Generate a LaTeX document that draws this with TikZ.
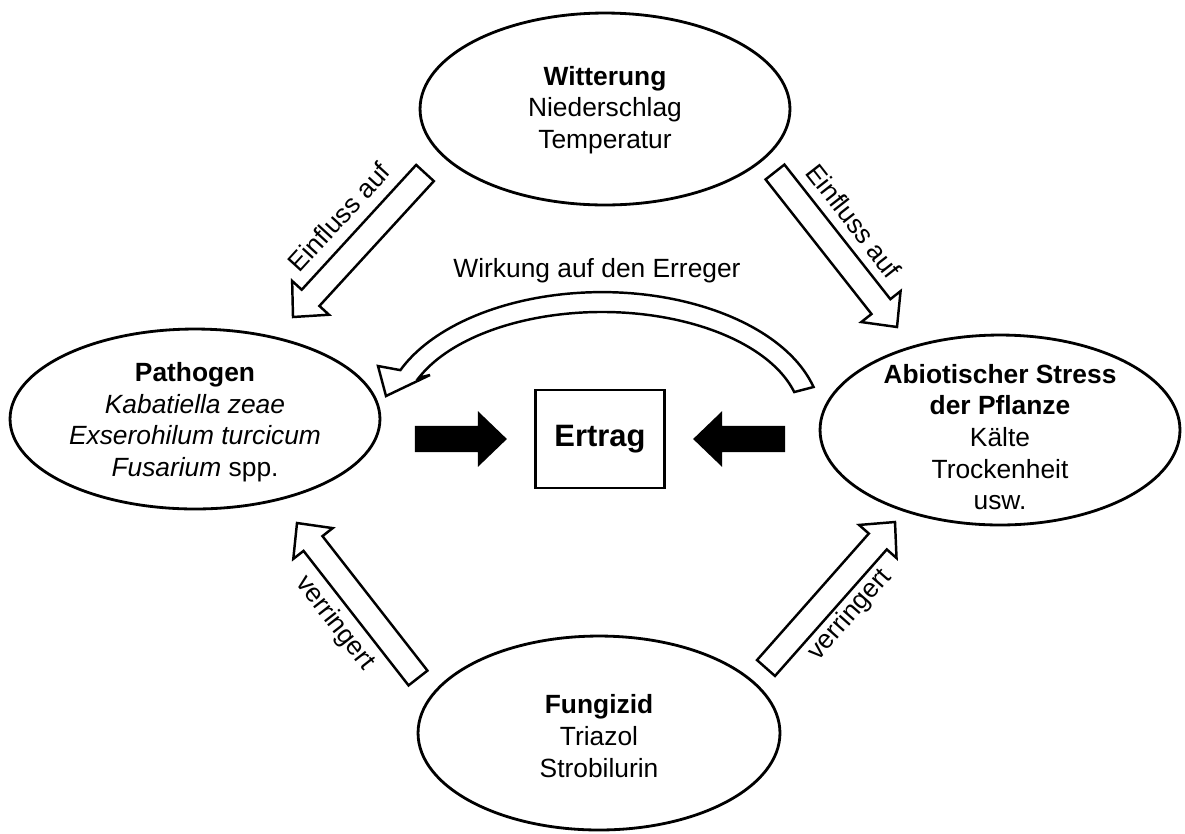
\documentclass[tikz,border=0pt]{standalone}
\usepackage{fontspec}
\setmainfont{Liberation Sans}
\usetikzlibrary{shapes.geometric, calc}

% block arrow from tail #2 to tip #3, filled with #1
\newcommand{\blockarr}[3][white]{%
	\coordinate (ba-base) at ($(#3)!0.52cm!(#2)$);
	\draw[arrowline, fill=#1] ($(#2)!0.24cm!90:(#3)$) -- ($(ba-base)!0.24cm!90:(#3)$) -- ($(ba-base)!0.5cm!90:(#3)$) -- (#3) -- ($(ba-base)!0.5cm!-90:(#3)$) -- ($(ba-base)!0.24cm!-90:(#3)$) -- ($(#2)!0.24cm!-90:(#3)$) -- cycle;
}

\begin{document}
\begin{tikzpicture}[x=0.02cm, y=-0.02cm,
	oval/.style={shape=ellipse, draw, line width=1.6pt, inner sep=0pt},
	ovaltext/.style={align=center, font=\fontsize{15}{18}\selectfont},
	lbl/.style={font=\fontsize{15}{18}\selectfont, inner sep=1pt},
	arrowline/.style={line width=1.4pt, line join=miter}]
	\path[fill=white] (0,0) rectangle (1185,833);
	% the four ovals
	\node[oval, minimum width=7.4cm, minimum height=3.84cm] (wetter) at (605,109) {};
	\node[ovaltext] (wetter-text) at (605,110) {\textbf{Witterung}\\Niederschlag\\Temperatur};
	\node[oval, minimum width=7.4cm, minimum height=3.6cm] (patho) at (195,419) {};
	\node[ovaltext] (patho-text) at (195,422) {\textbf{Pathogen}\\\textit{Kabatiella zeae}\\\textit{Exserohilum turcicum}\\\textit{Fusarium} spp.};
	\node[oval, minimum width=7.2cm, minimum height=3.8cm] (stress) at (1000,430) {};
	\node[ovaltext] (stress-text) at (1000,437) {\textbf{Abiotischer Stress}\\\textbf{der Pflanze}\\Kälte\\Trockenheit\\usw.};
	\node[oval, minimum width=7.24cm, minimum height=3.88cm] (fungi) at (599,733) {};
	\node[ovaltext] (fungi-text) at (599,736) {\textbf{Fungizid}\\Triazol\\Strobilurin};
	% yield box
	\node[shape=rectangle, draw, line width=1.6pt, minimum width=2.58cm, minimum height=1.96cm, font=\fontsize{17.6}{21}\selectfont\bfseries] (ertrag) at (600,439) {Ertrag};
	% black arrows onto the box
	\coordinate (in-l-tail) at ($(ertrag.west)+(-118,0)$);
	\coordinate (in-l-tip) at ($(ertrag.west)+(-29,0)$);
	\coordinate (in-r-tail) at ($(ertrag.east)+(118,0)$);
	\coordinate (in-r-tip) at ($(ertrag.east)+(29,0)$);
	\blockarr[black]{in-l-tail}{in-l-tip}
	\blockarr[black]{in-r-tail}{in-r-tip}
	% hollow arrows between the ovals
	\coordinate (ein-l-tail) at (425,173);
	\coordinate (ein-l-tip) at (293,317);
	\coordinate (ein-r-tail) at (775,172);
	\coordinate (ein-r-tip) at (897,327);
	\coordinate (ver-l-tail) at (418,678);
	\coordinate (ver-l-tip) at (297,523);
	\coordinate (ver-r-tail) at (766,668);
	\coordinate (ver-r-tip) at (895,522);
	\blockarr{ein-l-tail}{ein-l-tip}
	\blockarr{ein-r-tail}{ein-r-tip}
	\blockarr{ver-l-tail}{ver-l-tip}
	\blockarr{ver-r-tail}{ver-r-tip}
	\node[lbl, rotate=47.5] (ein-l-lbl) at (339,217) {Einfluss auf};
	\node[lbl, rotate=-52] (ein-r-lbl) at (854,221) {Einfluss auf};
	\node[lbl, rotate=-52] (ver-l-lbl) at (335,623) {verringert};
	\node[lbl, rotate=48.5] (ver-r-lbl) at (850,615) {verringert};
	% curved arrow back to the pathogen
	\draw[arrowline, fill=white] (813.5,387) arc[start angle=-15, end angle=-157, x radius=219, y radius=128] -- (378,366) -- (386,396) -- (430,375) -- (418.8,377.8) arc[start angle=-157, end angle=-15, x radius=199, y radius=108] -- cycle;
	\node[lbl, anchor=base] (wirk-lbl) at (597,277) {Wirkung auf den Erreger};
\end{tikzpicture}
\end{document}
